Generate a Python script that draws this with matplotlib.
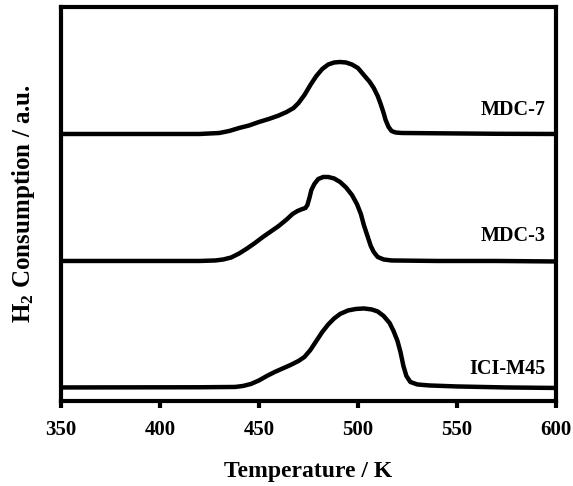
import matplotlib.pyplot as plt

plt.rcParams['font.family'] = 'Liberation Serif'
plt.rcParams['font.weight'] = 'bold'
plt.rcParams['mathtext.fontset'] = 'custom'
plt.rcParams['mathtext.rm'] = 'Liberation Serif:bold'
plt.rcParams['mathtext.bf'] = 'Liberation Serif:bold'
plt.rcParams['mathtext.default'] = 'bf'

# TPR profiles (temperature in K, signal in a.u. above baseline)
temp_mdc7 = [350, 420, 430, 435, 440, 445, 450, 455, 460, 464, 467.5, 470, 473, 476, 479,
             482, 485, 488, 491, 494, 497, 500, 503, 506, 508, 510, 511.5, 513, 514, 515.5,
             517, 519, 522, 540, 570, 600]
sig_mdc7 = [0, 0, 1, 3, 6, 8.5, 12, 15, 18.5, 22, 26, 31, 39, 49, 58,
            65, 69.5, 71.5, 72, 71.5, 69.5, 66, 59, 52, 46, 38, 30, 21, 14, 7,
            3, 1.5, 1, 0.7, 0.2, 0]

temp_mdc3 = [350, 420, 428, 432, 436, 440, 444, 448, 452, 456, 460, 464, 467, 469.5, 472,
             473.5, 474.5, 475.5, 476.5, 478, 480, 482.5, 485, 488, 491, 494, 497, 499.5,
             501.5, 503, 505, 506.5, 508, 510, 513, 517, 540, 570, 600]
sig_mdc3 = [0, 0, 0.5, 1.5, 3.5, 7.5, 12.5, 18, 24, 29.5, 35, 41.5, 47, 50, 52,
            53, 56, 63, 71, 77, 82, 84, 84, 82.5, 79, 73.5, 66, 57,
            47, 36, 24, 15, 9, 4, 1.5, 0.5, 0, 0, -0.5]

temp_ici = [350, 420, 438, 442, 446, 450, 454, 458, 462, 466, 470, 473, 476, 479, 482,
            485, 488, 491, 495, 499, 503, 507, 510, 513, 516, 518, 520, 521.5, 523,
            524.5, 526.5, 530, 536, 550, 575, 600]
sig_ici = [-0.5, -0.3, 0, 1, 3, 6.5, 11, 15, 18.5, 22, 26, 30, 37, 46, 55,
           62.5, 68.5, 73, 76.5, 78, 78.5, 77.5, 75.5, 71, 64, 56, 46, 35, 21,
           11, 5, 2.5, 1.5, 0.5, -0.5, -1]

names = ['ICI-M45', 'MDC-3', 'MDC-7']
offsets = [14, 140, 267]

fig = plt.figure(figsize=(5.73, 4.86), dpi=100)
ax = fig.add_axes([0.1065, 0.175, 0.8635, 0.8106])

curves = [(temp_ici, sig_ici), (temp_mdc3, sig_mdc3), (temp_mdc7, sig_mdc7)]
label_y = [32, 165, 291]
for (t, s), off, name, ly in zip(curves, offsets, names, label_y):
    ax.plot(t, [v + off for v in s], color='black', lw=3.2,
            solid_joinstyle='round', solid_capstyle='butt')
    ax.text(594.7, ly, name, ha='right', va='center', fontsize=14.5, fontweight='bold')

ax.set_xlim(350, 600)
ax.set_ylim(0, 394)
ax.set_xticks([350, 400, 450, 500, 550, 600])
ax.set_yticks([])
ax.tick_params(axis='x', direction='out', length=5, width=3, pad=9, labelsize=15)
for sp in ax.spines.values():
    sp.set_linewidth(3)

ax.set_xlabel('Temperature / K', fontsize=17, fontweight='bold', labelpad=15)
ax.set_ylabel('H$_2$ Consumption / a.u.', fontsize=18, fontweight='bold', labelpad=17)

fig.savefig('out.png', dpi=100)
